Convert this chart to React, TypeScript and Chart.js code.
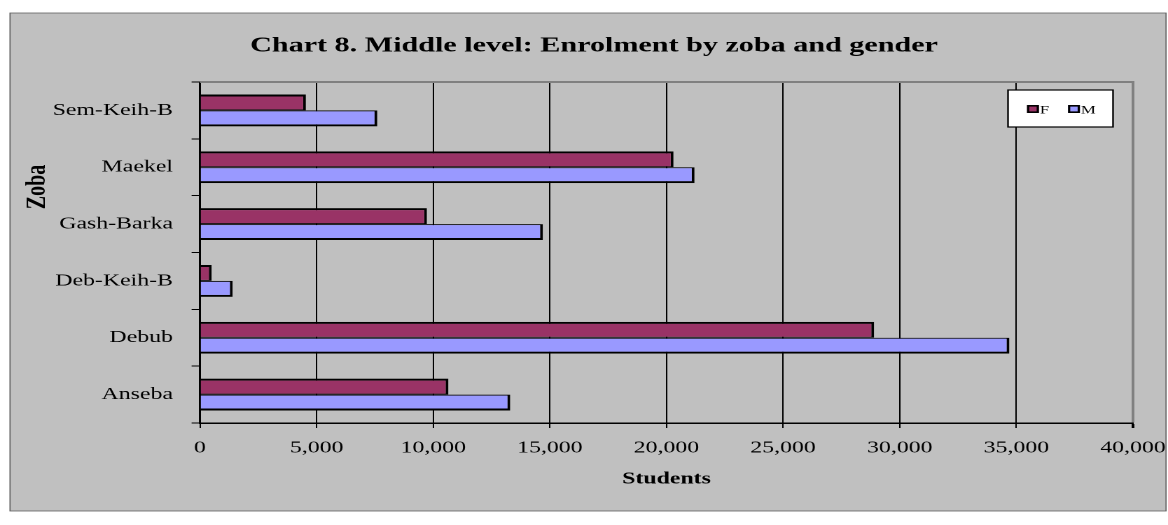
import { useEffect, useRef } from 'react';
import { Chart, registerables } from 'chart.js';

Chart.register(...registerables);

// ---- data ----
const categories = ['Sem-Keih-B', 'Maekel', 'Gash-Barka', 'Deb-Keih-B', 'Debub', 'Anseba'];
const seriesLabels = ['F', 'M'];
const femaleValues = [4540, 20300, 9730, 500, 28900, 10650];
const maleValues = [7600, 21200, 14700, 1400, 34700, 13300];
const seriesColors = ['#993366', '#9999FF'];
const xMin = 0;
const xMax = 40000;
const xStep = 5000;
const chartTitle = 'Chart 8. Middle level: Enrolment by zoba and gender';
const xAxisTitle = 'Students';
const yAxisTitle = 'Zoba';

// ---- geometry (internal canvas is narrower and stretched horizontally) ----
const OUT_W = 1168;
const H = 525;
const SX = 1.4;
const W = Math.round(OUT_W / SX);
const sx = OUT_W / W;
const X = (v: number) => v / sx;

const PLOT_TOP = 82;
const PLOT_BOTTOM = 423;
const PAD_BOTTOM = 35.8;

const FONT = '"Liberation Serif", "Times New Roman", serif';

const decorPlugin = {
  id: 'decor',
  beforeDraw(chart: any) {
    const { ctx, chartArea } = chart;
    ctx.save();
    ctx.fillStyle = '#ffffff';
    ctx.fillRect(0, 0, chart.width, chart.height);
    // outer chart box
    ctx.fillStyle = '#C0C0C0';
    ctx.fillRect(X(10), 13, X(1166) - X(10), 511 - 13);
    ctx.strokeStyle = '#606060';
    ctx.lineWidth = 0.8;
    ctx.strokeRect(X(10), 13, X(1166) - X(10), 511 - 13);
    // plot area
    ctx.fillStyle = '#C0C0C0';
    ctx.fillRect(chartArea.left, chartArea.top, chartArea.right - chartArea.left, chartArea.bottom - chartArea.top);
    ctx.restore();
  },
  afterDraw(chart: any) {
    const { ctx, chartArea } = chart;
    ctx.save();
    // top border of plot area
    ctx.strokeStyle = '#808080';
    ctx.lineWidth = 2;
    ctx.beginPath();
    ctx.moveTo(chartArea.left, chartArea.top);
    ctx.lineTo(chartArea.right + 1, chartArea.top);
    ctx.stroke();

    // title
    ctx.fillStyle = '#000';
    ctx.font = `bold 21.5px ${FONT}`;
    ctx.textAlign = 'center';
    ctx.textBaseline = 'alphabetic';
    ctx.fillText(chartTitle, X(594), 51.5);

    // y axis title
    ctx.save();
    ctx.translate(X(45), 187);
    ctx.rotate(-Math.PI / 2);
    ctx.font = `bold 20px ${FONT}`;
    ctx.textAlign = 'center';
    ctx.textBaseline = 'alphabetic';
    ctx.fillText(yAxisTitle, 0, 0);
    ctx.restore();

    // legend
    const lx = X(1008), ly = 90, lw = X(1113) - X(1008), lh = 37;
    ctx.fillStyle = '#ffffff';
    ctx.fillRect(lx, ly, lw, lh);
    ctx.strokeStyle = '#000';
    ctx.lineWidth = 1.2;
    ctx.strokeRect(lx, ly, lw, lh);
    const markerX = [X(1027), X(1068)];
    const ds = chart.data.datasets;
    ctx.font = `12px ${FONT}`;
    ctx.textAlign = 'left';
    ctx.textBaseline = 'alphabetic';
    ds.forEach((d: any, i: number) => {
      const mx = markerX[i];
      ctx.fillStyle = d.backgroundColor;
      ctx.fillRect(mx, 105, 8.5, 8);
      ctx.strokeStyle = '#000';
      ctx.lineWidth = 1.6;
      ctx.strokeRect(mx + 0.8, 105.8, 6.9, 6.4);
      ctx.fillStyle = '#000';
      ctx.fillText(d.label, mx + 9.2, 113.5);
    });
    ctx.restore();
  },
};

export default function App() {
  const ref = useRef<HTMLCanvasElement | null>(null);

  useEffect(() => {
    if (!ref.current) return;
    Chart.defaults.font.family = FONT;
    const chartLeft = X(200);
    const chartRight = X(1133);
    const chart = new Chart(ref.current, {
      type: 'bar',
      data: {
        labels: categories,
        datasets: [
          {
            label: seriesLabels[0],
            data: femaleValues,
            backgroundColor: seriesColors[0],
            borderColor: '#000',
            borderWidth: { top: 2, bottom: 1, right: 2, left: 0 } as any,
            categoryPercentage: 0.56,
            barPercentage: 1,
          },
          {
            label: seriesLabels[1],
            data: maleValues,
            backgroundColor: seriesColors[1],
            borderColor: '#000',
            borderWidth: { top: 1, bottom: 2, right: 2, left: 0 } as any,
            categoryPercentage: 0.56,
            barPercentage: 1,
          },
        ],
      },
      options: {
        indexAxis: 'y',
        responsive: false,
        devicePixelRatio: 2,
        animation: false,
        layout: { padding: { top: PLOT_TOP, left: 0, right: W - chartRight, bottom: PAD_BOTTOM } },
        plugins: {
          legend: { display: false },
          title: { display: false },
          tooltip: { enabled: false },
        },
        scales: {
          x: {
            type: 'linear',
            min: xMin,
            max: xMax,
            ticks: {
              stepSize: xStep,
              color: '#000',
              font: { size: 17, family: FONT },
              padding: 10,
              maxRotation: 0,
              callback: (v: any) => Number(v).toLocaleString('en-US'),
            },
            grid: {
              color: (c: any) => (c.tick && c.tick.value === xMax ? '#808080' : '#000'),
              lineWidth: (c: any) => (c.tick && c.tick.value === xMax ? 2 : 1),
              tickLength: 5,
              tickColor: '#000',
              drawTicks: true,
            },
            border: { color: '#000', width: 1.5 },
            title: {
              display: true,
              text: xAxisTitle,
              color: '#000',
              font: { size: 17, weight: 'bold', family: FONT },
              padding: { top: 10.4, bottom: 0 },
            },
            afterFit: (s: any) => {
              s.height = H - PLOT_BOTTOM - PAD_BOTTOM;
              s.paddingLeft = 0;
              s.paddingRight = 0;
              s.paddingTop = 0;
              s.paddingBottom = 0;
            },
          },
          y: {
            type: 'category',
            ticks: { color: '#000', font: { size: 17, family: FONT }, padding: 13.3 },
            grid: { drawOnChartArea: false, tickLength: 6, tickColor: '#000', offset: true },
            border: { color: '#000', width: 1.5 },
            afterFit: (s: any) => {
              s.width = chartLeft;
              s.paddingLeft = 0;
              s.paddingRight = 0;
              s.paddingTop = 0;
              s.paddingBottom = 0;
            },
          },
        },
      } as any,
      plugins: [decorPlugin],
    });
    return () => chart.destroy();
  }, []);

  return (
    <div style={{ position: 'absolute', left: 0, top: 0, width: OUT_W, height: H, overflow: 'hidden', background: '#fff' }}>
      <div style={{ width: W, height: H, transform: `scaleX(${sx})`, transformOrigin: '0 0' }}>
        <canvas ref={ref} width={W} height={H} style={{ display: 'block' }} />
      </div>
    </div>
  );
}
